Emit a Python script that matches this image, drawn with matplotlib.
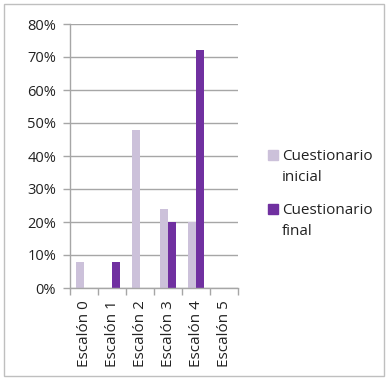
import numpy as np
from matplotlib import pyplot as plt
from matplotlib.patches import Rectangle

# Percentages per step for each questionnaire
categorias = ['Escalón 0', 'Escalón 1', 'Escalón 2', 'Escalón 3', 'Escalón 4', 'Escalón 5']
inicial = [8, 0, 48, 24, 20, 0]
final = [0, 8, 0, 20, 72, 0]
series = ['Cuestionario\ninicial', 'Cuestionario\nfinal']
colores = ['#CCC1DA', '#7030A0']

plt.rcParams['font.family'] = ['Open Sans', 'DejaVu Sans']

fig = plt.figure(figsize=(3.88, 3.80), dpi=100)
ax = fig.add_axes([70 / 388, 1 - 288 / 380, 168 / 388, 264 / 380])

x = np.arange(len(categorias))
w = 0.29
ax.bar(x - w / 2, inicial, width=w, color=colores[0], zorder=3)
ax.bar(x + w / 2, final, width=w, color=colores[1], zorder=3)

ax.set_xlim(-0.5, len(categorias) - 0.5)
ax.set_ylim(0, 80)
ax.set_yticks(np.arange(0, 81, 10))
ax.set_yticklabels([f'{v}%' for v in range(0, 81, 10)], fontsize=10.5, color='#222222')
ax.yaxis.grid(True, color='#A6A6A6', linewidth=1, zorder=0)

# category labels centred, tick marks between categories
ax.set_xticks(x)
ax.set_xticklabels(categorias, rotation=90, fontsize=11, color='#222222')
ax.tick_params(axis='x', length=0, pad=9)
ax.set_xticks(np.arange(-0.5, len(categorias)), minor=True)
ax.tick_params(axis='x', which='minor', length=5, color='#A6A6A6', width=1)
ax.tick_params(axis='y', length=5, color='#A6A6A6', width=1, pad=5)

for s in ['top', 'right']:
    ax.spines[s].set_visible(False)
for s in ['left', 'bottom']:
    ax.spines[s].set_color('#A6A6A6')
    ax.spines[s].set_linewidth(1)
ax.spines['bottom'].set_zorder(4)

# legend: square aligned with the first line of each wrapped label
for i, (nombre, col) in enumerate(zip(series, colores)):
    top = 149 + i * 54
    fig.patches.append(Rectangle((268 / 388, 1 - (top + 11) / 380), 10 / 388, 10 / 380,
                                 transform=fig.transFigure, color=col))
    fig.text(282 / 388, 1 - top / 380, nombre, fontsize=11, color='#222222',
             va='top', ha='left', linespacing=1.55)

# outer chart border
fig.patches.append(Rectangle((4 / 388, 4 / 380), 380 / 388, 372 / 380, transform=fig.transFigure,
                             fill=False, edgecolor='#BFBFBF', linewidth=1))

fig.savefig('out.png', dpi=100)
